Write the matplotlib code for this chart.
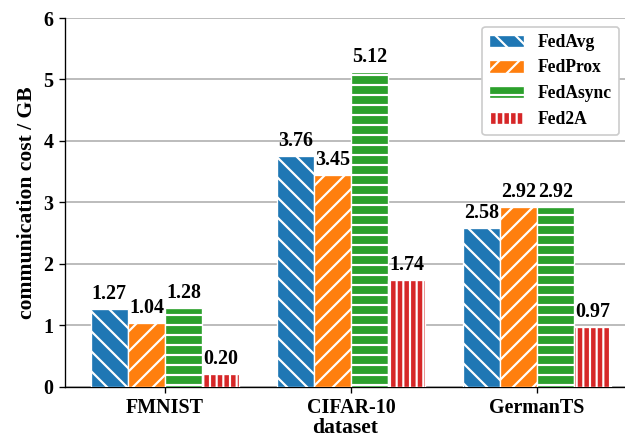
import matplotlib
matplotlib.use("Agg")
import matplotlib.pyplot as plt
import numpy as np

datasets = ["FMNIST", "CIFAR-10", "GermanTS"]
methods = ["FedAvg", "FedProx", "FedAsync", "Fed2A"]
fedavg = [1.27, 3.76, 2.58]
fedprox = [1.04, 3.45, 2.92]
fedasync = [1.28, 5.12, 2.92]
fed2a = [0.20, 1.74, 0.97]
series = [fedavg, fedprox, fedasync, fed2a]
colors = ["#1f77b4", "#ff7f0e", "#2ca02c", "#d62728"]
hatches = ["\\\\", "//", "--", "|||"]
yticks = [0, 1, 2, 3, 4, 5, 6]

plt.rcParams["font.family"] = ["Liberation Serif", "DejaVu Serif"]
plt.rcParams["font.weight"] = "bold"
plt.rcParams["hatch.linewidth"] = 1.3

fig = plt.figure(figsize=(625 / 120, 441 / 120), dpi=120)
ax = fig.add_axes([65 / 625, 54.5 / 441, 1 - 65 / 625, 368.5 / 441])

x = np.arange(len(datasets))
w = 0.2
for i, (vals, c, h, m) in enumerate(zip(series, colors, hatches, methods)):
    pos = x + (i - 1.5) * w
    bars = ax.bar(pos, vals, w, color=c, edgecolor="white", hatch=h,
                  linewidth=0.8, label=m, zorder=3)
    for b, v in zip(bars, vals):
        ax.annotate(f"{v:.2f}", (b.get_x() + b.get_width() / 2, v),
                    xytext=(0, 3), textcoords="offset points",
                    ha="center", va="bottom", fontsize=12, fontweight="bold")

ax.set_xlim(-0.538, 2.473)
ax.set_ylim(0, 6)
ax.set_yticks(yticks)
ax.set_xticks(x)
ax.set_xticklabels(datasets)
ax.tick_params(axis="both", labelsize=12)
for lab in ax.get_xticklabels() + ax.get_yticklabels():
    lab.set_fontweight("bold")
ax.yaxis.grid(True, color="#b0b0b0", linewidth=1.0, zorder=0)
ax.set_axisbelow(True)
ax.spines["top"].set_visible(False)
ax.spines["right"].set_visible(False)
ax.set_ylabel("communication cost / GB", fontsize=13, fontweight="bold")
ax.set_xlabel("dataset", fontsize=13, fontweight="bold", labelpad=0)

leg = ax.legend(loc="upper right", bbox_to_anchor=(1.005, 1.0),
                prop={"size": 10.5, "weight": "bold"}, framealpha=1.0,
                edgecolor="#cccccc", fancybox=True)

fig.savefig("out.png", dpi=120)
